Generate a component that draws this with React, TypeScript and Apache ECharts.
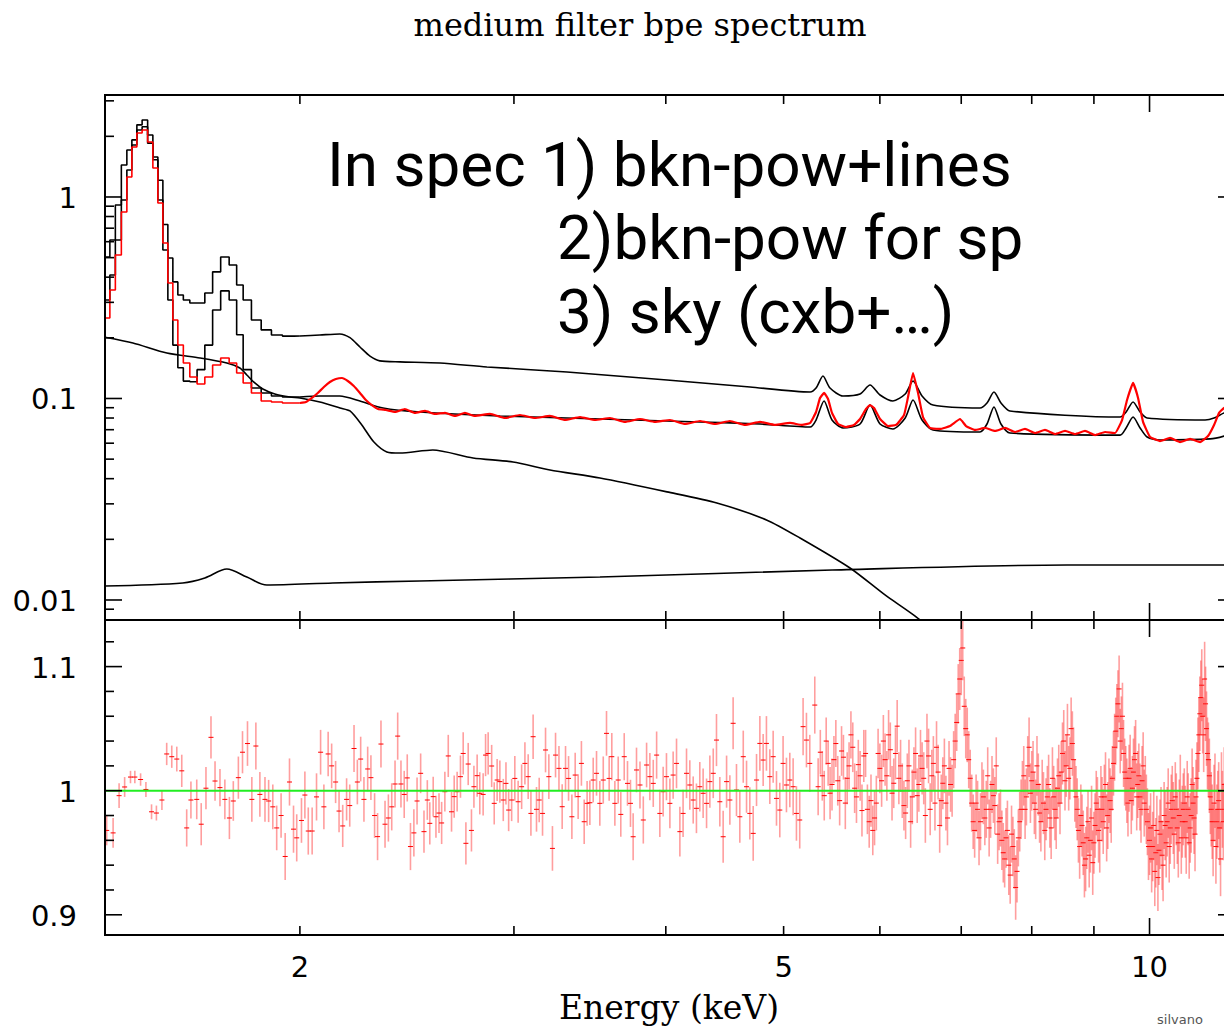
import React, { useEffect, useRef } from "react";
import * as echarts from "echarts";

// ---- axis ranges (energy axis is drawn on log10(keV)) ----
const X_MIN = 1.3826;
const X_MAX = 11.515; // visible right edge of the page
const X_FRAME = 11.757; // right frame of the plot (just beyond the page)
const Y1_MIN = 0.007956;
const Y1_MAX = 3.207;
const Y2_MIN = 0.88372;
const Y2_MAX = 1.13755;

// ---- tick definitions ----
const xTickValues = [2, 3, 4, 5, 6, 7, 8, 9, 10];
const xMajorTicks = [10];
const xLabelValues = [2, 5, 10];
const y1TickValues = [0.009, 0.01, 0.02, 0.03, 0.04, 0.05, 0.06, 0.07, 0.08, 0.09, 0.1, 0.2, 0.3, 0.4, 0.5, 0.6, 0.7, 0.8, 0.9, 1, 2, 3];
const y1MajorTicks = [0.01, 0.1, 1];
const y2TickValues = [0.9, 0.92, 0.94, 0.96, 0.98, 1.0, 1.02, 1.04, 1.06, 1.08, 1.1, 1.12];
const y2MajorTicks = [0.9, 1.0, 1.1];

// ---- low-energy binned spectrum (step histogram) ----
const binEnergies = [1.3826, 1.3888, 1.402, 1.418, 1.4342, 1.4479, 1.4617, 1.4756, 1.4911, 1.5067, 1.521, 1.5355, 1.5501, 1.5648, 1.5797, 1.5947, 1.6129, 1.6344, 1.6578, 1.6831, 1.7075, 1.7352, 1.7633, 1.7852, 1.8073, 1.842, 1.8754, 1.9149, 1.9552, 2.0];
const totalModelLow = [0.504, 0.504, 0.612, 0.913, 1.44, 1.71, 1.92, 2.28, 2.41, 1.85, 1.58, 1.21, 0.73, 0.498, 0.379, 0.326, 0.308, 0.298, 0.298, 0.334, 0.425, 0.504, 0.46, 0.366, 0.308, 0.245, 0.219, 0.2065, 0.204, 0.2043];
const spec1ModelLow = [0.308, 0.308, 0.41, 0.612, 0.966, 1.36, 1.81, 2.15, 2.23, 2.03, 1.53, 0.966, 0.546, 0.308, 0.184, 0.142, 0.122, 0.121, 0.139, 0.184, 0.275, 0.342, 0.308, 0.207, 0.139, 0.1127, 0.1065, 0.1029, 0.1017, 0.1017];
const dataLow = [0.2509, 0.2509, 0.3455, 0.5157, 0.8426, 1.257, 1.77, 2.078, 2.15, 1.875, 1.393, 0.9337, 0.591, 0.3743, 0.2453, 0.1843, 0.15, 0.1279, 0.118, 0.1279, 0.1466, 0.1589, 0.15, 0.1338, 0.1194, 0.1065, 0.0972, 0.0961, 0.095, 0.095];

// ---- high-energy curves [keV, flux] ----
const totalModelHigh = [[2.0, 0.2043], [2.077, 0.2066], [2.157, 0.209], [2.199, 0.2003], [2.241, 0.1801], [2.284, 0.1623], [2.327, 0.1537], [2.417, 0.152], [2.608, 0.15], [2.85, 0.1434], [3.317, 0.1353], [4.009, 0.1235], [4.692, 0.114], [5.257, 0.1077], [5.317, 0.1127], [5.387, 0.1293], [5.459, 0.1127], [5.595, 0.1029], [5.779, 0.1053], [5.889, 0.1166], [6.002, 0.1041], [6.15, 0.0972], [6.295, 0.1053], [6.389, 0.1221], [6.499, 0.1029], [6.636, 0.0928], [7.253, 0.0897], [7.35, 0.095], [7.448, 0.1077], [7.547, 0.095], [7.677, 0.0867], [9.458, 0.0809], [9.566, 0.0857], [9.693, 0.0961], [9.823, 0.0857], [9.954, 0.08], [11.11, 0.0782], [11.3, 0.08], [11.516, 0.0848], [11.759, 0.0877]];
const spec1ModelHigh = [[2.0, 0.1017], [2.077, 0.1029], [2.157, 0.1029], [2.241, 0.0972], [2.341, 0.0897], [2.51, 0.0857], [2.921, 0.0819], [3.531, 0.0791], [4.268, 0.0765], [4.782, 0.0747], [5.257, 0.0722], [5.317, 0.0782], [5.398, 0.0972], [5.48, 0.0782], [5.595, 0.0714], [5.779, 0.0747], [5.889, 0.0928], [6.002, 0.0747], [6.15, 0.0706], [6.295, 0.08], [6.389, 0.0983], [6.499, 0.0782], [6.636, 0.0698], [7.253, 0.0682], [7.35, 0.0747], [7.448, 0.0908], [7.547, 0.0747], [7.677, 0.0674], [9.458, 0.0658], [9.566, 0.0714], [9.693, 0.0809], [9.823, 0.0714], [9.954, 0.0644], [10.201, 0.0622], [11.216, 0.063], [11.516, 0.0651], [11.759, 0.0682]];
const dataHigh = [[2.0, 0.095], [2.023, 0.0961], [2.046, 0.1006], [2.069, 0.1065], [2.093, 0.114], [2.117, 0.1207], [2.141, 0.1249], [2.166, 0.1264], [2.19, 0.1221], [2.215, 0.1153], [2.241, 0.1065], [2.266, 0.0983], [2.292, 0.0928], [2.319, 0.0887], [2.354, 0.0877], [2.395, 0.0857], [2.44, 0.0887], [2.487, 0.0848], [2.535, 0.0867], [2.583, 0.0838], [2.633, 0.0848], [2.683, 0.0819], [2.734, 0.0848], [2.786, 0.0819], [2.867, 0.0838], [2.949, 0.08], [3.034, 0.0828], [3.122, 0.08], [3.212, 0.0819], [3.305, 0.0782], [3.4, 0.0809], [3.498, 0.0782], [3.599, 0.08], [3.702, 0.0765], [3.809, 0.0791], [3.919, 0.0765], [4.032, 0.0782], [4.148, 0.0747], [4.268, 0.0773], [4.391, 0.0747], [4.517, 0.0773], [4.648, 0.0739], [4.782, 0.0765], [4.919, 0.0739], [5.061, 0.0756], [5.178, 0.0739], [5.257, 0.0756], [5.317, 0.0857], [5.357, 0.1006], [5.398, 0.1065], [5.439, 0.0994], [5.48, 0.0848], [5.543, 0.0747], [5.628, 0.0722], [5.713, 0.0739], [5.779, 0.0791], [5.845, 0.0887], [5.889, 0.0928], [5.934, 0.0897], [6.002, 0.0791], [6.094, 0.073], [6.187, 0.0739], [6.281, 0.0828], [6.329, 0.1017], [6.389, 0.1338], [6.45, 0.1065], [6.511, 0.0809], [6.598, 0.0714], [6.724, 0.0706], [6.853, 0.073], [6.984, 0.0791], [7.064, 0.073], [7.185, 0.0698], [7.323, 0.0714], [7.463, 0.069], [7.606, 0.0714], [7.751, 0.0682], [7.899, 0.0706], [8.05, 0.0674], [8.204, 0.0698], [8.361, 0.0666], [8.521, 0.069], [8.684, 0.0666], [8.85, 0.069], [9.02, 0.0658], [9.192, 0.0682], [9.368, 0.0674], [9.493, 0.0782], [9.583, 0.0983], [9.693, 0.1194], [9.785, 0.1006], [9.878, 0.0765], [10.01, 0.0644], [10.201, 0.0615], [10.397, 0.0637], [10.595, 0.0608], [10.798, 0.063], [11.004, 0.0608], [11.172, 0.0651], [11.3, 0.0739], [11.408, 0.0848], [11.516, 0.0897], [11.648, 0.0908], [11.759, 0.0877]];
const brokenPowerLaw = [[1.3826, 0.2015], [1.4577, 0.1886], [1.5545, 0.1682], [1.655, 0.1589], [1.7415, 0.15], [1.7849, 0.1417], [1.8087, 0.1308], [1.8363, 0.1194], [1.8644, 0.1115], [1.9072, 0.1053], [1.963, 0.1017], [2.0, 0.1006], [2.077, 0.0961], [2.158, 0.0897], [2.199, 0.0867], [2.249, 0.0739], [2.301, 0.0608], [2.358, 0.0543], [2.417, 0.0536], [2.5725, 0.0555], [2.7765, 0.0507], [2.9947, 0.0484], [3.212, 0.0442], [3.531, 0.0403], [4.009, 0.0344], [4.406, 0.0303], [4.845, 0.0249], [5.158, 0.0203], [5.67, 0.01441], [6.059, 0.01059], [6.474, 0.00796], [6.66, 0.0065]];
const skyModel = [[1.3826, 0.01173], [1.602, 0.01215], [1.6704, 0.01286], [1.7415, 0.01425], [1.8087, 0.013], [1.8786, 0.01187], [2.129, 0.01215], [2.51, 0.01243], [3.531, 0.01301], [5.482, 0.01409], [8.553, 0.01492], [11.757, 0.01492]];

// ---- ratio panel [keV, ratio, error] ----
const ratioLow = [[1.387, 0.968, 0.012], [1.404, 0.966, 0.012], [1.42, 0.996, 0.01], [1.435, 1.003, 0.008], [1.451, 1.011, 0.005], [1.463, 1.011, 0.005], [1.479, 1.009, 0.005], [1.494, 1.001, 0.006], [1.51, 0.983, 0.006], [1.524, 0.982, 0.006], [1.54, 0.9925, 0.008], [1.554, 1.0296, 0.009], [1.569, 1.0274, 0.009], [1.584, 1.0255, 0.01], [1.599, 1.016, 0.013], [1.614, 0.97, 0.015], [1.627, 0.9925, 0.015], [1.645, 0.993, 0.016], [1.659, 0.973, 0.017], [1.674, 1.002, 0.017], [1.69, 1.043, 0.017], [1.703, 1.0078, 0.016], [1.719, 1.0025, 0.015], [1.735, 0.993, 0.016], [1.75, 0.978, 0.017], [1.763, 0.9917, 0.016], [1.78, 1.0105, 0.017], [1.794, 1.031, 0.017], [1.811, 1.038, 0.018], [1.826, 0.993, 0.018], [1.84, 1.036, 0.019], [1.854, 0.997, 0.018], [1.872, 0.993, 0.018], [1.885, 0.9917, 0.017], [1.9, 0.987, 0.018], [1.914, 0.97, 0.018], [1.93, 0.98, 0.018], [1.945, 0.947, 0.019], [1.961, 1.007, 0.019], [1.976, 0.969, 0.019], [1.988, 0.962, 0.019], [2.006, 0.976, 0.018], [2.019, 0.9965, 0.019], [2.032, 0.9675, 0.019], [2.047, 0.9675, 0.019], [2.064, 0.995, 0.019], [2.08, 1.031, 0.018], [2.093, 0.987, 0.018], [2.11, 1.0296, 0.018], [2.124, 1.02, 0.018], [2.14, 1.007, 0.017], [2.154, 0.9836, 0.017], [2.169, 0.9716, 0.017], [2.185, 0.993, 0.017], [2.198, 0.988, 0.017], [2.216, 1.034, 0.019], [2.23, 1.007, 0.018], [2.244, 1.0255, 0.018], [2.258, 0.993, 0.018], [2.274, 1.0175, 0.018], [2.288, 1.0105, 0.018], [2.304, 0.98, 0.018], [2.317, 0.963, 0.019], [2.332, 1.0376, 0.019], [2.35, 0.973, 0.019], [2.365, 0.978, 0.019], [2.38, 0.987, 0.019], [2.395, 1.0054, 0.019], [2.407, 1.044, 0.019], [2.422, 1.0054, 0.019], [2.437, 0.997, 0.019], [2.451, 1.0103, 0.019], [2.466, 0.955, 0.019], [2.482, 0.966, 0.019], [2.497, 0.9917, 0.019]];
const ratioMid = [[2.514, 1.014, 0.016], [2.53, 0.967, 0.017], [2.546, 0.9925, 0.016], [2.558, 0.9737, 0.017], [2.5745, 0.9952, 0.016], [2.588, 0.979, 0.017], [2.603, 0.982, 0.016], [2.616, 0.974, 0.017], [2.632, 0.9992, 0.016], [2.649, 1.028, 0.017], [2.6655, 0.983, 0.016], [2.679, 0.9952, 0.017], [2.694, 0.9992, 0.016], [2.711, 1.0113, 0.017], [2.725, 1.03, 0.017], [2.739, 0.9576, 0.017], [2.751, 1.0215, 0.017], [2.768, 0.968, 0.017], [2.781, 1.0032, 0.017], [2.798, 1.0121, 0.017], [2.812, 0.9979, 0.017], [2.83, 0.997, 0.017], [2.843, 1.0287, 0.017], [2.857, 1.03, 0.017], [2.876, 1.0199, 0.017], [2.89, 0.9898, 0.017], [2.906, 1.0086, 0.017], [2.921, 1.0073, 0.017], [2.94, 0.9925, 0.017], [2.955, 1.0059, 0.017], [2.97, 0.9844, 0.017], [2.987, 0.9925, 0.017], [3.005, 1.0099, 0.018], [3.024, 0.9911, 0.017], [3.044, 1.0032, 0.018], [3.063, 1.022, 0.017], [3.082, 1.0113, 0.018], [3.098, 0.9817, 0.018], [3.111, 1.0435, 0.018], [3.131, 0.985, 0.018], [3.147, 0.9925, 0.018], [3.167, 0.9817, 0.018], [3.185, 1.0328, 0.018], [3.205, 1.0113, 0.018], [3.227, 0.9535, 0.018], [3.246, 1.0287, 0.018], [3.267, 1.018, 0.018], [3.287, 0.9871, 0.018], [3.308, 1.018, 0.018], [3.327, 1.0099, 0.018], [3.348, 0.979, 0.018], [3.369, 1.0126, 0.018], [3.388, 0.9952, 0.018], [3.409, 1.022, 0.018], [3.427, 0.975, 0.018], [3.446, 0.9898, 0.018], [3.464, 0.9903, 0.018], [3.486, 1.0086, 0.018], [3.508, 1.014, 0.018], [3.53, 0.9898, 0.018], [3.553, 1.0086, 0.019], [3.575, 1.0462, 0.018], [3.593, 1.0099, 0.018], [3.611, 1.0274, 0.019], [3.632, 0.9898, 0.018], [3.655, 1.0086, 0.019], [3.673, 0.9809, 0.018], [3.697, 1.0274, 0.019], [3.72, 1.0059, 0.018], [3.741, 0.9898, 0.019], [3.76, 0.9629, 0.019], [3.784, 1.0167, 0.018], [3.809, 1.0046, 0.019], [3.833, 0.9764, 0.019], [3.857, 1.0207, 0.018], [3.881, 1.0113, 0.019], [3.906, 1.0059, 0.019], [3.931, 1.0287, 0.019], [3.955, 0.9817, 0.019], [3.98, 0.9992, 0.02], [4.005, 1.0113, 0.019], [4.031, 0.9898, 0.02], [4.056, 1.0126, 0.019], [4.082, 1.022, 0.02], [4.108, 0.967, 0.02], [4.133, 0.9817, 0.019], [4.16, 1.014, 0.02], [4.186, 1.0046, 0.02], [4.213, 0.9925, 0.019], [4.239, 0.9858, 0.02], [4.266, 1.0032, 0.02], [4.293, 0.9979, 0.02], [4.321, 0.9898, 0.02], [4.348, 1.0073, 0.021], [4.376, 1.014, 0.02], [4.403, 1.0408, 0.021], [4.431, 0.9911, 0.02], [4.459, 0.9629, 0.021], [4.488, 1.0073, 0.021], [4.516, 0.9925, 0.02], [4.544, 1.0543, 0.021], [4.573, 1.0005, 0.021], [4.602, 0.979, 0.021], [4.632, 1.0274, 0.021], [4.661, 1.0032, 0.021], [4.69, 0.9817, 0.021], [4.72, 0.9656, 0.022], [4.75, 1.0086, 0.021], [4.78, 1.0381, 0.022], [4.81, 1.0247, 0.021], [4.84, 1.0381, 0.022], [4.871, 1.0113, 0.022], [4.902, 1.0274, 0.021], [4.933, 0.9938, 0.022], [4.964, 0.9844, 0.022], [4.995, 1.022, 0.022], [5.027, 1.0046, 0.022], [5.059, 1.0086, 0.022], [5.091, 1.0032, 0.023], [5.123, 0.9817, 0.022], [5.155, 0.9764, 0.023], [5.188, 1.0516, 0.023], [5.221, 1.0408, 0.022], [5.254, 1.022, 0.023], [5.304, 1.069, 0.023], [5.338, 1.0032, 0.023]];
const ratioHigh = [[5.36, 1.031, 0.018], [5.4, 0.996, 0.02], [5.44, 1.022, 0.018], [5.48, 1.005, 0.021], [5.52, 1.038, 0.019], [5.56, 0.992, 0.02], [5.6, 1.027, 0.018], [5.64, 1.01, 0.021], [5.68, 1.045, 0.019], [5.72, 1.002, 0.02], [5.76, 1.021, 0.02], [5.8, 0.984, 0.021], [5.84, 1.03, 0.019], [5.88, 0.975, 0.021], [5.92, 0.968, 0.02], [5.96, 0.99, 0.022], [6.0, 1.018, 0.02], [6.04, 1.04, 0.021], [6.08, 1.012, 0.02], [6.12, 1.033, 0.022], [6.16, 1.006, 0.02], [6.2, 1.052, 0.021], [6.24, 1.02, 0.021], [6.28, 0.988, 0.02], [6.32, 1.008, 0.022], [6.36, 0.975, 0.021], [6.4, 1.015, 0.02], [6.44, 0.996, 0.022], [6.48, 1.028, 0.021], [6.52, 1.01, 0.021], [6.56, 1.04, 0.022], [6.6, 0.985, 0.021], [6.64, 1.022, 0.022], [6.68, 1.035, 0.021], [6.72, 0.972, 0.022], [6.76, 1.006, 0.021], [6.8, 0.99, 0.022], [6.84, 1.018, 0.022], [6.88, 1.0, 0.021], [6.92, 1.04, 0.022], [6.96, 1.078, 0.024], [7.0, 1.105, 0.028], [7.04, 1.068, 0.024], [7.08, 1.045, 0.022], [7.12, 1.01, 0.023], [7.16, 0.975, 0.022], [7.2, 0.99, 0.023], [7.24, 0.962, 0.022], [7.28, 1.0, 0.023], [7.32, 0.978, 0.022], [7.36, 1.012, 0.023], [7.4, 0.985, 0.023], [7.44, 0.996, 0.022], [7.48, 1.02, 0.023], [7.52, 0.975, 0.023], [7.56, 0.96, 0.024], [7.6, 0.945, 0.023], [7.64, 0.968, 0.024], [7.68, 0.932, 0.023], [7.72, 0.955, 0.024], [7.76, 0.922, 0.026], [7.8, 0.962, 0.023], [7.84, 0.985, 0.024], [7.88, 1.012, 0.024], [7.92, 0.995, 0.023], [7.96, 1.035, 0.024], [8.0, 1.008, 0.024], [8.04, 0.99, 0.025], [8.08, 1.02, 0.024], [8.12, 0.982, 0.024], [8.16, 1.0, 0.025], [8.2, 0.968, 0.024], [8.24, 0.995, 0.025], [8.28, 0.978, 0.024], [8.32, 1.01, 0.025], [8.36, 0.985, 0.025], [8.4, 1.002, 0.024], [8.44, 0.99, 0.025], [8.48, 1.03, 0.025], [8.52, 1.008, 0.024], [8.56, 1.045, 0.025], [8.6, 1.018, 0.025], [8.64, 1.038, 0.026], [8.68, 1.0, 0.025], [8.72, 0.985, 0.025], [8.76, 0.955, 0.026], [8.8, 0.972, 0.025], [8.84, 0.94, 0.026], [8.88, 0.962, 0.025], [8.92, 0.948, 0.026], [8.96, 0.978, 0.026], [9.0, 0.958, 0.025], [9.04, 0.99, 0.026], [9.08, 0.968, 0.026], [9.12, 0.995, 0.025], [9.16, 0.975, 0.026], [9.2, 1.005, 0.026], [9.24, 0.98, 0.027], [9.28, 0.992, 0.026], [9.32, 1.01, 0.026], [9.36, 1.035, 0.027], [9.4, 1.06, 0.026], [9.44, 1.082, 0.027], [9.48, 1.05, 0.026], [9.52, 1.03, 0.027], [9.56, 1.01, 0.026], [9.6, 0.99, 0.027], [9.64, 1.018, 0.027], [9.68, 1.002, 0.026], [9.72, 1.025, 0.027], [9.76, 0.995, 0.027], [9.8, 1.012, 0.026], [9.84, 0.985, 0.027], [9.88, 1.02, 0.027], [9.92, 1.0, 0.028], [9.96, 0.975, 0.027], [10.0, 0.96, 0.028], [10.04, 0.945, 0.027], [10.08, 0.972, 0.028], [10.12, 0.95, 0.028], [10.16, 0.93, 0.027], [10.2, 0.965, 0.028], [10.24, 0.948, 0.028], [10.28, 0.98, 0.027], [10.32, 0.958, 0.028], [10.36, 0.99, 0.028], [10.4, 0.97, 0.029], [10.44, 0.992, 0.028], [10.48, 0.965, 0.028], [10.52, 0.985, 0.029], [10.56, 0.958, 0.028], [10.6, 1.0, 0.029], [10.64, 0.975, 0.029], [10.68, 0.99, 0.028], [10.72, 0.962, 0.029], [10.76, 0.985, 0.029], [10.8, 0.97, 0.028], [10.84, 1.005, 0.029], [10.88, 0.978, 0.029], [10.92, 0.995, 0.03], [10.96, 1.03, 0.029], [11.0, 1.062, 0.03], [11.04, 1.085, 0.029], [11.08, 1.045, 0.03], [11.12, 1.07, 0.03], [11.16, 1.03, 0.029], [11.2, 1.012, 0.03], [11.24, 0.985, 0.03], [11.28, 0.96, 0.029], [11.32, 1.0, 0.03], [11.36, 0.975, 0.03], [11.4, 0.992, 0.031], [11.44, 0.945, 0.03], [11.48, 0.985, 0.031], [11.52, 1.005, 0.03]];
const ratioHighB = [[5.38, 1.012, 0.02], [5.42, 1.04, 0.019], [5.46, 0.998, 0.021], [5.5, 1.025, 0.019], [5.54, 1.008, 0.02], [5.58, 1.032, 0.02], [5.62, 0.99, 0.021], [5.66, 1.02, 0.019], [5.7, 1.035, 0.02], [5.74, 0.995, 0.021], [5.78, 1.012, 0.02], [5.82, 1.028, 0.021], [5.86, 0.985, 0.02], [5.9, 0.992, 0.021], [5.94, 0.978, 0.022], [5.98, 1.03, 0.02], [6.02, 1.008, 0.021], [6.06, 1.025, 0.021], [6.1, 1.045, 0.02], [6.14, 0.998, 0.022], [6.18, 1.03, 0.021], [6.22, 1.01, 0.021], [6.26, 1.0, 0.022], [6.3, 0.982, 0.021], [6.34, 1.02, 0.021], [6.38, 0.995, 0.022], [6.42, 1.03, 0.021], [6.46, 1.005, 0.022], [6.5, 1.018, 0.021], [6.54, 0.98, 0.022], [6.58, 1.028, 0.022], [6.62, 1.012, 0.021], [6.66, 0.99, 0.022], [6.7, 1.015, 0.022], [6.74, 0.992, 0.021], [6.78, 1.02, 0.022], [6.82, 0.978, 0.022], [6.86, 1.005, 0.022], [6.9, 1.025, 0.023], [6.94, 1.055, 0.023], [6.98, 1.09, 0.025], [7.02, 1.115, 0.026], [7.06, 1.05, 0.024], [7.1, 1.025, 0.023], [7.14, 0.99, 0.023], [7.18, 0.968, 0.022], [7.22, 0.985, 0.023], [7.26, 0.975, 0.023], [7.3, 0.995, 0.022], [7.34, 0.985, 0.023], [7.38, 0.97, 0.023], [7.42, 1.005, 0.023], [7.46, 0.988, 0.023], [7.5, 0.965, 0.024], [7.54, 0.978, 0.023], [7.58, 0.95, 0.024], [7.62, 0.962, 0.024], [7.66, 0.94, 0.024], [7.7, 0.965, 0.023], [7.74, 0.945, 0.024], [7.78, 0.935, 0.025], [7.82, 0.975, 0.024], [7.86, 1.0, 0.024], [7.9, 0.985, 0.024], [7.94, 1.02, 0.024], [7.98, 0.998, 0.024], [8.02, 1.015, 0.025], [8.06, 0.985, 0.024], [8.1, 1.005, 0.025], [8.14, 0.975, 0.024], [8.18, 0.99, 0.025], [8.22, 0.985, 0.025], [8.26, 1.005, 0.024], [8.3, 0.97, 0.025], [8.34, 0.995, 0.025], [8.38, 0.978, 0.025], [8.42, 1.012, 0.025], [8.46, 1.015, 0.025], [8.5, 1.04, 0.025], [8.54, 1.02, 0.025], [8.58, 1.01, 0.026], [8.62, 1.05, 0.025], [8.66, 1.025, 0.026], [8.7, 0.995, 0.025], [8.74, 0.968, 0.026], [8.78, 0.98, 0.025], [8.82, 0.958, 0.026], [8.86, 0.945, 0.026], [8.9, 0.975, 0.025], [8.94, 0.96, 0.026], [8.98, 0.942, 0.026], [9.02, 0.972, 0.026], [9.06, 0.985, 0.026], [9.1, 0.96, 0.026], [9.14, 0.985, 0.026], [9.18, 0.995, 0.026], [9.22, 0.97, 0.027], [9.26, 1.0, 0.026], [9.3, 0.985, 0.027], [9.34, 1.022, 0.026], [9.38, 1.048, 0.027], [9.42, 1.07, 0.027], [9.46, 1.04, 0.026], [9.5, 1.06, 0.027], [9.54, 1.015, 0.027], [9.58, 1.0, 0.026], [9.62, 1.01, 0.027], [9.66, 0.992, 0.027], [9.7, 1.015, 0.027], [9.74, 1.03, 0.027], [9.78, 1.005, 0.027], [9.82, 0.995, 0.027], [9.86, 1.008, 0.028], [9.9, 0.99, 0.027], [9.94, 0.985, 0.028], [9.98, 0.955, 0.027], [10.02, 0.97, 0.028], [10.06, 0.955, 0.028], [10.1, 0.935, 0.028], [10.14, 0.968, 0.028], [10.18, 0.952, 0.028], [10.22, 0.975, 0.028], [10.26, 0.94, 0.029], [10.3, 0.972, 0.028], [10.34, 0.975, 0.028], [10.38, 0.955, 0.029], [10.42, 0.985, 0.028], [10.46, 0.978, 0.029], [10.5, 0.995, 0.028], [10.54, 0.97, 0.029], [10.58, 0.98, 0.029], [10.62, 0.962, 0.029], [10.66, 0.985, 0.029], [10.7, 0.975, 0.029], [10.74, 0.995, 0.029], [10.78, 0.958, 0.029], [10.82, 0.98, 0.03], [10.86, 0.99, 0.029], [10.9, 0.965, 0.03], [10.94, 1.01, 0.029], [10.98, 1.045, 0.03], [11.02, 1.075, 0.03], [11.06, 1.06, 0.03], [11.1, 1.09, 0.03], [11.14, 1.05, 0.03], [11.18, 1.025, 0.03], [11.22, 0.995, 0.03], [11.26, 0.975, 0.03], [11.3, 0.99, 0.031], [11.34, 0.955, 0.03], [11.38, 0.985, 0.031], [11.42, 0.97, 0.03], [11.46, 1.0, 0.031], [11.5, 0.975, 0.031]];

const TICK_FONT = '29px "DejaVu Sans"';
const NOTE_FONT = '62px Roboto';
const lg = (v: number) => Math.log10(v);
const toLogX = (pts: number[][]) => pts.map((p) => [lg(p[0]), ...p.slice(1)]);

function frameSeries(gridIdx: number, yLo: number, yHi: number) {
  const xl = lg(X_MIN);
  const xf = lg(X_FRAME);
  return {
    type: "custom",
    xAxisIndex: gridIdx,
    yAxisIndex: gridIdx,
    clip: false,
    silent: true,
    z: 11,
    data: [[xl, yLo]],
    renderItem: (params: any, api: any) => {
      const tl = api.coord([xl, yHi]);
      const br = api.coord([xf, yLo]);
      return {
        type: "rect",
        shape: { x: tl[0], y: tl[1], width: br[0] - tl[0], height: br[1] - tl[1] },
        style: { fill: "none", stroke: "#000", lineWidth: 2 },
      };
    },
  };
}

function xTickSeries(gridIdx: number, yLo: number, yHi: number) {
  return {
    type: "custom",
    xAxisIndex: gridIdx,
    yAxisIndex: gridIdx,
    clip: false,
    silent: true,
    z: 10,
    data: xTickValues.map((v, i) => [lg(v), yLo, xMajorTicks.includes(v) ? 1 : 0, gridIdx === 1 && xLabelValues.includes(v) ? 1 : 0, i]),
    renderItem: (params: any, api: any) => {
      const v = api.value(0);
      const len = api.value(2) === 1 ? 17 : 9;
      const b = api.coord([v, yLo]);
      const t = api.coord([v, yHi]);
      const children: any[] = [
        { type: "line", shape: { x1: b[0], y1: b[1], x2: b[0], y2: b[1] - len }, style: { stroke: "#000", lineWidth: 1.6 } },
        { type: "line", shape: { x1: t[0], y1: t[1], x2: t[0], y2: t[1] + len }, style: { stroke: "#000", lineWidth: 1.6 } },
      ];
      if (api.value(3) === 1) {
        const label = String(xTickValues[api.value(4)]);
        children.push({ type: "text", x: b[0], y: b[1] + 32, style: { text: label, font: TICK_FONT, fill: "#000", align: "center", verticalAlign: "middle" } });
      }
      return { type: "group", children };
    },
  };
}

function yTickSeries(gridIdx: number, values: number[], majors: number[]) {
  const xl = lg(X_MIN);
  const xf = lg(X_FRAME);
  return {
    type: "custom",
    xAxisIndex: gridIdx,
    yAxisIndex: gridIdx,
    clip: false,
    silent: true,
    z: 10,
    data: values.map((v, i) => [xl, v, majors.includes(v) ? 1 : 0, i]),
    renderItem: (params: any, api: any) => {
      const v = api.value(1);
      const major = api.value(2) === 1;
      const len = major ? 17 : 9;
      const l = api.coord([xl, v]);
      const r = api.coord([xf, v]);
      const children: any[] = [
        { type: "line", shape: { x1: l[0], y1: l[1], x2: l[0] + len, y2: l[1] }, style: { stroke: "#000", lineWidth: 1.6 } },
        { type: "line", shape: { x1: r[0], y1: r[1], x2: r[0] - len, y2: r[1] }, style: { stroke: "#000", lineWidth: 1.6 } },
      ];
      if (major) {
        const label = String(values[api.value(3)]);
        children.push({ type: "text", x: l[0] - 28, y: l[1] + 1, style: { text: label, font: TICK_FONT, fill: "#000", align: "right", verticalAlign: "middle" } });
      }
      return { type: "group", children };
    },
  };
}

function ratioSeries(data: number[][]) {
  return {
    type: "custom",
    xAxisIndex: 1,
    yAxisIndex: 1,
    clip: true,
    silent: true,
    z: 3,
    data: toLogX(data),
    renderItem: (params: any, api: any) => {
      const e = api.value(0);
      const r = api.value(1);
      const err = api.value(2);
      const top = api.coord([e, r + err]);
      const bot = api.coord([e, r - err]);
      const c = api.coord([e, r]);
      return {
        type: "group",
        children: [
          { type: "line", shape: { x1: c[0], y1: top[1], x2: c[0], y2: bot[1] }, style: { stroke: "rgba(255,40,40,0.45)", lineWidth: 1.6 } },
          { type: "line", shape: { x1: c[0] - 2.5, y1: c[1], x2: c[0] + 2.5, y2: c[1] }, style: { stroke: "#ff0000", lineWidth: 1 } },
        ],
      };
    },
  };
}

function lineSeries(data: number[][], color: string, width: number, step: boolean, smooth: number, z: number) {
  return {
    type: "line",
    xAxisIndex: 0,
    yAxisIndex: 0,
    data: toLogX(data),
    symbol: "none",
    silent: true,
    step: step ? "middle" : false,
    smooth: step ? false : smooth,
    lineStyle: { color, width },
    z,
  };
}

function buildOption() {
  const hiddenAxis = {
    axisLine: { show: false },
    axisTick: { show: false },
    axisLabel: { show: false },
    splitLine: { show: false },
  };
  return {
    animation: false,
    backgroundColor: "#ffffff",
    grid: [
      { left: 105, top: 95, right: 0, height: 525, show: false },
      { left: 105, top: 620, right: 0, height: 315, show: false },
    ],
    xAxis: [
      { gridIndex: 0, type: "value", min: lg(X_MIN), max: lg(X_MAX), ...hiddenAxis },
      { gridIndex: 1, type: "value", min: lg(X_MIN), max: lg(X_MAX), ...hiddenAxis },
    ],
    yAxis: [
      { gridIndex: 0, type: "log", logBase: 10, min: Y1_MIN, max: Y1_MAX, ...hiddenAxis },
      { gridIndex: 1, type: "value", min: Y2_MIN, max: Y2_MAX, ...hiddenAxis },
    ],
    graphic: [
      { type: "text", x: 640, y: 25, style: { text: "medium filter bpe spectrum", font: '32px "DejaVu Serif"', fill: "#000", align: "center", verticalAlign: "middle" } },
      { type: "text", x: 669, y: 1007, style: { text: "Energy (keV)", font: '33px "DejaVu Serif"', fill: "#000", align: "center", verticalAlign: "middle" } },
      { type: "text", x: 327, y: 164, z: 20, style: { text: "In spec 1) bkn-pow+lines", font: NOTE_FONT, fill: "#000", align: "left", verticalAlign: "middle" } },
      { type: "text", x: 557, y: 237, z: 20, style: { text: "2)bkn-pow for sp", font: NOTE_FONT, fill: "#000", align: "left", verticalAlign: "middle" } },
      { type: "text", x: 557, y: 311, z: 20, style: { text: "3) sky (cxb+…)", font: NOTE_FONT, fill: "#000", align: "left", verticalAlign: "middle" } },
      { type: "text", x: 1157, y: 1019, style: { text: "silvano", font: '13px "DejaVu Sans"', fill: "#555", align: "left", verticalAlign: "middle" } },
    ],
    series: [
      lineSeries(brokenPowerLaw, "#000", 1.6, false, 0.25, 2),
      lineSeries(skyModel, "#000", 1.6, false, 0.3, 2),
      lineSeries(binEnergies.map((e, i) => [e, totalModelLow[i]]), "#000", 1.6, true, 0, 2),
      lineSeries(totalModelHigh, "#000", 1.6, false, 0.25, 2),
      lineSeries(binEnergies.map((e, i) => [e, spec1ModelLow[i]]), "#000", 1.6, true, 0, 2),
      lineSeries(spec1ModelHigh, "#000", 1.6, false, 0.25, 2),
      lineSeries(binEnergies.map((e, i) => [e, dataLow[i]]), "#ff0000", 1.6, true, 0, 3),
      lineSeries(dataHigh, "#ff0000", 2.2, false, 0.12, 3),
      ratioSeries(ratioLow),
      ratioSeries(ratioMid),
      ratioSeries(ratioHigh),
      ratioSeries(ratioHighB),
      {
        type: "line",
        xAxisIndex: 1,
        yAxisIndex: 1,
        data: [[lg(X_MIN), 1], [lg(X_MAX), 1]],
        symbol: "none",
        silent: true,
        lineStyle: { color: "#22ee22", width: 2 },
        z: 5,
      },
      frameSeries(0, Y1_MIN, Y1_MAX),
      frameSeries(1, Y2_MIN, Y2_MAX),
      xTickSeries(0, Y1_MIN, Y1_MAX),
      xTickSeries(1, Y2_MIN, Y2_MAX),
      yTickSeries(0, y1TickValues, y1MajorTicks),
      yTickSeries(1, y2TickValues, y2MajorTicks),
    ],
  };
}

export default function App() {
  const ref = useRef<HTMLDivElement>(null);
  useEffect(() => {
    if (!ref.current) return;
    const chart = echarts.init(ref.current, null, { renderer: "svg" });
    chart.setOption(buildOption() as any);
    return () => chart.dispose();
  }, []);
  return (
    <div
      ref={ref}
      style={{ position: "absolute", left: 0, top: 0, width: 1224, height: 1029, background: "#fff" }}
    />
  );
}
